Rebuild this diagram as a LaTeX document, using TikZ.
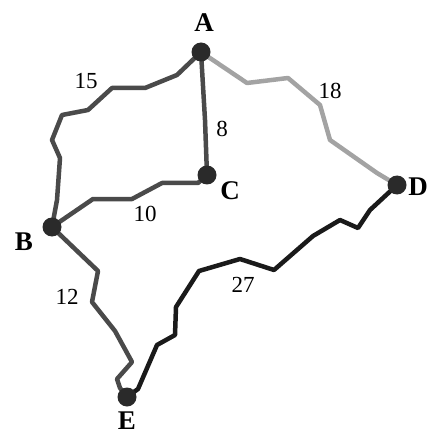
\documentclass[tikz,border=0pt]{standalone}
\usepackage{fontspec}
\setmainfont{Liberation Serif}
\usetikzlibrary{backgrounds}
\definecolor{edgedark}{HTML}{4A4A4A}
\definecolor{edgelight}{HTML}{A3A3A3}
\definecolor{edgeblack}{HTML}{1A1A1A}
\definecolor{dotcol}{HTML}{2A2A2A}
\tikzset{
  dot/.style={circle,fill=dotcol,inner sep=0pt,minimum size=19pt},
  vlabel/.style={font=\fontsize{27}{27}\selectfont\bfseries,inner sep=0pt},
  wlabel/.style={font=\fontsize{23}{23}\selectfont,inner sep=0pt},
  road/.style={line width=4.5pt,line join=round,line cap=round},
}
\begin{document}
\begin{tikzpicture}[x=1pt,y=-1pt]
\useasboundingbox (0,0) rectangle (427,438);
\node[dot] (A) at (201,52) {};
\node[dot] (C) at (207,175) {};
\node[dot] (D) at (397,185) {};
\node[dot] (B) at (52,227) {};
\node[dot] (E) at (127,397) {};
\node[vlabel] (lA) at (204,23) {A};
\node[vlabel] (lC) at (230,191) {C};
\node[vlabel] (lD) at (418,187) {D};
\node[vlabel] (lB) at (24,242) {B};
\node[vlabel] (lE) at (127,421) {E};
\node[wlabel] (w15) at (86,81) {15};
\node[wlabel] (w8) at (222,129) {8};
\node[wlabel] (w18) at (330,91) {18};
\node[wlabel] (w10) at (145,214) {10};
\node[wlabel] (w12) at (67,297) {12};
\node[wlabel] (w27) at (243,285) {27};
\begin{pgfonlayer}{background}
\draw[road,edgedark] (A.center) -- (177,75) -- (145,88) -- (112,88) -- (88,110) -- (62,115) -- (52,140) -- (60,158) -- (57,200) -- (B.center);
\draw[road,edgedark] (A.center) -- (205,120) -- (C.center);
\draw[road,edgelight] (A.center) -- (247,83) -- (288,78) -- (320,105) -- (330,140) -- (377,173) -- (D.center);
\draw[road,edgedark] (B.center) -- (93,199) -- (132,199) -- (162,183) -- (198,183) -- (C.center);
\draw[road,edgedark] (B.center) -- (98,271) -- (92,302) -- (115,331) -- (132,362) -- (117,379) -- (120,388) -- (E.center);
\draw[road,edgeblack] (E.center) -- (138,389) -- (157,345) -- (175,335) -- (176,307) -- (199,271) -- (240,259) -- (274,270) -- (313,236) -- (340,220) -- (358,228) -- (370,210) -- (D.center);
\end{pgfonlayer}
\end{tikzpicture}
\end{document}
